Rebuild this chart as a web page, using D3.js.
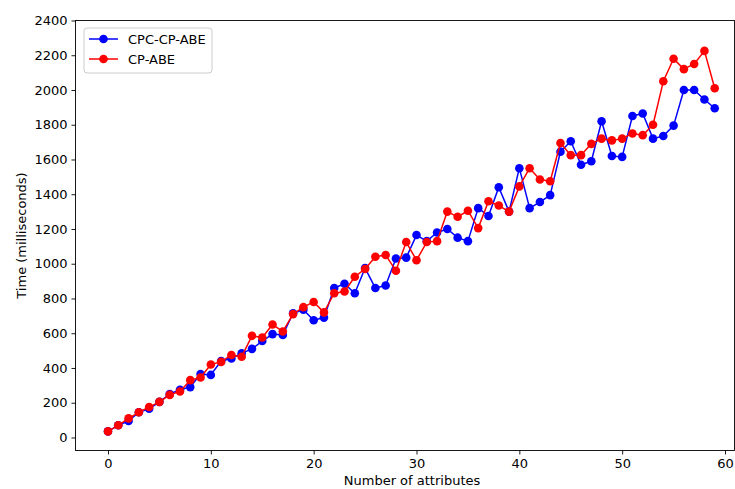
<!DOCTYPE html>
<html>
<head>
<meta charset="utf-8">
<script src="https://cdn.jsdelivr.net/npm/d3@7"></script>
<style>
  body { margin: 0; background: #fff; }
  svg { display: block; font-family: "DejaVu Sans", sans-serif; }
</style>
</head>
<body>
<svg id="chart" width="735" height="489"></svg>
<script>
// values
const attributes = d3.range(0, 60);
const cpcCpAbe = [
  35, 70, 95, 145, 165, 205, 250, 275, 290, 365,
  360, 440, 455, 485, 510, 555, 595, 590, 715, 735,
  675, 690, 860, 885, 830, 975, 860, 875, 1030, 1035,
  1165, 1130, 1180, 1200, 1150, 1130, 1320, 1275, 1440, 1300,
  1550, 1320, 1355, 1395, 1645, 1705, 1570, 1590, 1820, 1620,
  1615, 1850, 1865, 1720, 1735, 1795, 2000, 2000, 1945, 1895
];
const cpAbe = [
  35, 70, 110, 145, 175, 205, 245, 265, 330, 345,
  420, 435, 475, 465, 585, 575, 650, 610, 710, 750,
  780, 720, 830, 840, 925, 970, 1040, 1050, 960, 1125,
  1020, 1125, 1130, 1300, 1270, 1305, 1205, 1360, 1335, 1300,
  1445, 1550, 1485, 1475, 1695, 1625, 1625, 1690, 1720, 1710,
  1720, 1750, 1740, 1800, 2050, 2180, 2120, 2150, 2225, 2010
];
const xTicks = [0, 10, 20, 30, 40, 50, 60];
const yTicks = d3.range(0, 2401, 200);

const series = [
  { name: "CPC-CP-ABE", color: "#0000ff", values: cpcCpAbe },
  { name: "CP-ABE", color: "#ff0000", values: cpAbe }
];

const svg = d3.select("#chart");
const frame = { left: 75.5, right: 734.5, top: 20.5, bottom: 450.5 };

const x = d3.scaleLinear().domain([0, 60]).range([108, 725]);
const y = d3.scaleLinear().domain([-75, 2400]).range([frame.bottom, frame.top]);

// data lines + markers
const line = d3.line().x((d, i) => x(attributes[i])).y(d => y(d));
const plot = svg.append("g").attr("class", "plot");
series.forEach(s => {
  const g = plot.append("g");
  g.append("path")
    .attr("d", line(s.values))
    .attr("fill", "none")
    .attr("stroke", s.color)
    .attr("stroke-width", 1.5)
    .attr("stroke-linejoin", "round");
  g.selectAll("circle")
    .data(s.values)
    .join("circle")
    .attr("cx", (d, i) => x(attributes[i]))
    .attr("cy", d => y(d))
    .attr("r", 4.3)
    .attr("fill", s.color);
});

// frame
svg.append("rect")
  .attr("x", frame.left).attr("y", frame.top)
  .attr("width", frame.right - frame.left)
  .attr("height", frame.bottom - frame.top)
  .attr("fill", "none").attr("stroke", "#000").attr("stroke-width", 0.9);

// axes
const xAxis = d3.axisBottom(x).tickValues(xTicks).tickFormat(d3.format("d")).tickSize(4).tickPadding(4);
const gx = svg.append("g").attr("transform", `translate(0,${frame.bottom})`).call(xAxis);
gx.select(".domain").remove();

const yAxis = d3.axisLeft(y).tickValues(yTicks).tickFormat(d3.format("d")).tickSize(4).tickPadding(4);
const gy = svg.append("g").attr("transform", `translate(${frame.left},0)`).call(yAxis);
gy.select(".domain").remove();

svg.selectAll(".tick text")
  .attr("font-family", "DejaVu Sans, sans-serif")
  .attr("font-size", 13)
  .attr("fill", "#000");
svg.selectAll(".tick line").attr("stroke", "#000").attr("stroke-width", 0.9);

// axis titles
svg.append("text")
  .attr("x", (frame.left + frame.right) / 2 + 7)
  .attr("y", 488)
  .attr("dy", "-0.25em")
  .attr("text-anchor", "middle")
  .attr("font-size", 13)
  .text("Number of attributes");

svg.append("text")
  .attr("transform", `translate(26,${(frame.top + frame.bottom) / 2}) rotate(-90)`)
  .attr("text-anchor", "middle")
  .attr("font-size", 13)
  .text("Time (milliseconds)");

// legend
const legend = svg.append("g").attr("transform", "translate(84,28)");
legend.append("rect")
  .attr("width", 128).attr("height", 45)
  .attr("rx", 3)
  .attr("fill", "#fff").attr("fill-opacity", 0.8)
  .attr("stroke", "#ccc");
series.forEach((s, i) => {
  const row = legend.append("g").attr("transform", `translate(0,${11 + i * 20})`);
  row.append("line")
    .attr("x1", 5).attr("x2", 34)
    .attr("stroke", s.color).attr("stroke-width", 1.5);
  row.append("circle").attr("cx", 19.5).attr("r", 4.3).attr("fill", s.color);
  row.append("text")
    .attr("x", 44).attr("dy", "0.35em")
    .attr("font-size", 13)
    .text(s.name);
});
</script>
</body>
</html>
